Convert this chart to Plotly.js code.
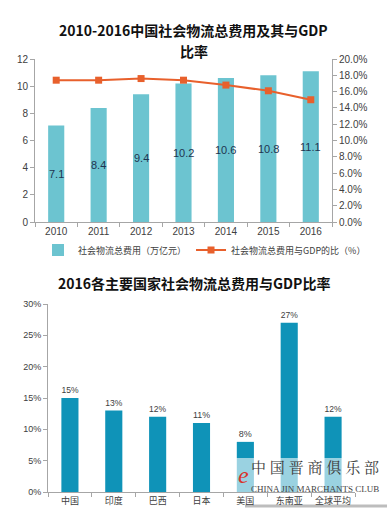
<!DOCTYPE html>
<html><head><meta charset="utf-8">
<script src="https://cdn.plot.ly/plotly-3.0.1.min.js"></script>
<style>html,body{margin:0;padding:0;background:#fff}#c{width:387px;height:519px}</style>
</head><body><div id="c"></div>
<script>
const years = ['2010','2011','2012','2013','2014','2015','2016'];
const costTrillion = [7.1, 8.4, 9.4, 10.2, 10.6, 10.8, 11.1];
const ratioGDP = [0.174, 0.174, 0.176, 0.174, 0.168, 0.161, 0.150];
const countries = ['中国','印度','巴西','日本','美国','东南亚','全球平均'];
const countryRatio = [15, 13, 12, 11, 8, 27, 12];

const W = 387, H = 519;
const px = v => v / W;
const py = v => 1 - v / H;
const FONT = 'Liberation Sans, Arial, Noto Sans CJK SC, sans-serif';
const CJK = 'Noto Sans CJK SC, sans-serif';
const AX = '#a6a6a6';

const traces = [
  {type:'bar', x: years, y: costTrillion, name:'社会物流总费用（万亿元）',
   marker:{color:'#6cc4d0'}, width:0.38, xaxis:'x', yaxis:'y', hoverinfo:'none'},
  {type:'scatter', mode:'lines+markers', x: years, y: ratioGDP, name:'社会物流总费用与GDP的比（%）',
   line:{color:'#e8602c', width:2}, marker:{symbol:'square', size:7, color:'#e8602c'},
   xaxis:'x', yaxis:'y2', hoverinfo:'none'},
  {type:'bar', x: countries, y: countryRatio, showlegend:false,
   marker:{color:'#0f93b8'}, width:0.39,
   text: countryRatio.map(v=>v+'%'), textposition:'outside', textangle:0, cliponaxis:false,
   textfont:{family:FONT, size:9, color:'#404040'}, xaxis:'x2', yaxis:'y3', hoverinfo:'none'}
];

const barLabels = years.map((yr, i) => ({
  text: costTrillion[i].toFixed(1), xref:'x', yref:'y', x: i, y: costTrillion[i] / 2,
  showarrow:false, xanchor:'center', yanchor:'middle',
  font:{family:FONT, size:11, color:'#1f3550'}
}));

const tickf = {family:FONT, size:10, color:'#404040'};
const layout = {
  width:W, height:H, margin:{l:0,r:0,t:0,b:0}, paper_bgcolor:'#fff', plot_bgcolor:'rgba(0,0,0,0)',
  showlegend:true,
  legend:{orientation:'h', x:px(38), xanchor:'left', y:py(250), yanchor:'middle',
    font:{family:CJK, size:9, color:'#404040'}, itemwidth:30, tracegroupgap:0, bgcolor:'rgba(0,0,0,0)'},
  xaxis:{domain:[px(35), px(332)], anchor:'y', type:'category', range:[-0.5,6.5],
    showline:true, linecolor:AX, ticks:'outside', tickson:'boundaries', ticklen:4, tickcolor:AX,
    tickfont:tickf, tickangle:0, showgrid:false, zeroline:false},
  yaxis:{domain:[py(222), py(59)], anchor:'x', range:[0,12], dtick:2, showline:true, linecolor:AX,
    ticks:'outside', ticklen:4, tickcolor:AX, tickfont:tickf, showgrid:false, zeroline:false},
  yaxis2:{overlaying:'y', side:'right', anchor:'x', range:[0,0.2], dtick:0.02, tickformat:'.1%',
    showline:true, linecolor:AX, ticks:'outside', ticklen:4, tickcolor:AX, tickfont:tickf,
    showgrid:false, zeroline:false},
  xaxis2:{domain:[px(48), px(355)], anchor:'y3', type:'category', range:[-0.5,6.5],
    showline:true, linecolor:AX, ticks:'outside', tickson:'boundaries', ticklen:4, tickcolor:AX,
    tickfont:{family:CJK, size:9, color:'#404040'}, tickangle:0, showgrid:false, zeroline:false},
  yaxis3:{domain:[py(492), py(304)], anchor:'x2', range:[0,30], dtick:5, ticksuffix:'%',
    showline:true, linecolor:AX, ticks:'outside', ticklen:4, tickcolor:AX,
    tickfont:{family:FONT, size:9, color:'#404040'}, showgrid:false, zeroline:false},
  shapes:[
    {type:'rect', xref:'paper', yref:'paper', x0:px(235), x1:1, y0:py(492), y1:py(458),
     fillcolor:'rgba(255,255,255,0.58)', line:{width:0}, layer:'above'},
    {type:'line', xref:'paper', yref:'paper', x0:px(245), x1:1, y0:py(506), y1:py(506),
     line:{color:'rgba(90,90,90,0.4)', width:3}, layer:'below'}
  ],
  annotations: barLabels.concat([
    {text:'<b>2010-2016中国社会物流总费用及其与GDP</b>', xref:'paper', yref:'paper', x:0.5, y:py(18),
     xanchor:'center', showarrow:false, font:{family:CJK, size:14, color:'#111'}},
    {text:'<b>比率</b>', xref:'paper', yref:'paper', x:0.5, y:py(39),
     xanchor:'center', showarrow:false, font:{family:CJK, size:14, color:'#111'}},
    {text:'<b>2016各主要国家社会物流总费用与GDP比率</b>', xref:'paper', yref:'paper', x:0.5, y:py(283),
     xanchor:'center', showarrow:false, font:{family:CJK, size:14, color:'#111'}},
    {text:'中 国 晋 商 俱 乐 部', xref:'paper', yref:'paper', x:px(315), y:py(479), xanchor:'center',
     showarrow:false, font:{family:'Noto Serif CJK SC, Noto Sans CJK SC, serif', size:15, color:'#3a3a3a'}},
    {text:'CHINA JIN MARCHANTS CLUB', xref:'paper', yref:'paper', x:px(315), y:py(496), xanchor:'center',
     showarrow:false, font:{family:'Liberation Serif, DejaVu Serif, serif', size:9, color:'#444'}},
    {text:'<i>e</i>', xref:'paper', yref:'paper', x:px(243), y:py(490), xanchor:'center',
     showarrow:false, font:{family:'Liberation Serif, DejaVu Serif, serif', size:24, color:'#d8352b'}}
  ])
};
Plotly.newPlot('c', traces, layout, {staticPlot:true, displayModeBar:false});
</script></body></html>
